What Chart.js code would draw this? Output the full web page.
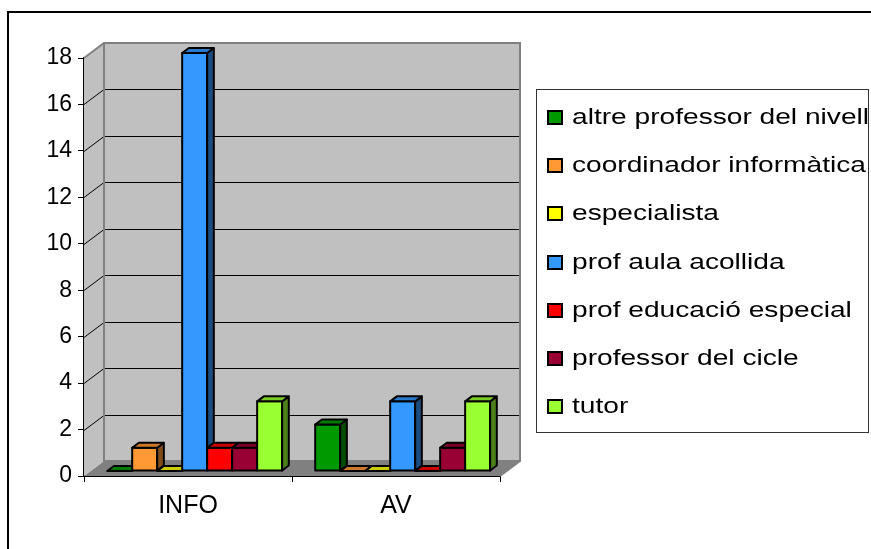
<!DOCTYPE html>
<html><head><meta charset="utf-8">
<script src="https://cdn.jsdelivr.net/npm/chart.js@4.4.0/dist/chart.umd.min.js"></script>
<style>
html,body{margin:0;padding:0;background:#fff;overflow:hidden;width:871px;height:549px;}
#frame{position:absolute;left:7px;top:11px;width:1000px;height:1000px;border:2px solid #000;}
#c{position:absolute;left:0;top:0;display:block;}
#legend{position:absolute;left:536px;top:89px;width:331px;height:342px;border:1px solid #333;background:#fff;font-family:'Liberation Sans',Arial,sans-serif;font-size:22.5px;color:#000;}
.row{position:absolute;left:0;width:331px;height:48px;line-height:48px;white-space:nowrap;}
.sw{position:absolute;left:10px;top:17px;width:12px;height:11px;border:2px solid #000;}
.lbl{position:absolute;left:35px;top:0;transform:scaleX(1.25);transform-origin:0 0;}
</style>
</head><body>
<div id="frame"></div>
<canvas id="c" width="871" height="549"></canvas>
<div id="legend"></div>
<script>
// ---- data ----
const categories = ['INFO', 'AV'];
const seriesNames = ['altre professor del nivell', 'coordinador informàtica', 'especialista', 'prof aula acollida', 'prof educació especial', 'professor del cicle', 'tutor'];
const altreProfessor = [0, 2];
const coordinadorInformatica = [1, 0];
const especialista = [0, 0];
const profAulaAcollida = [18, 3];
const profEducacioEspecial = [1, 0];
const professorCicle = [1, 1];
const tutor = [3, 3];
const seriesValues = [altreProfessor, coordinadorInformatica, especialista, profAulaAcollida, profEducacioEspecial, professorCicle, tutor];
const seriesColors = ['#009900', '#FF9933', '#FFFF00', '#3399FF', '#FF0000', '#990033', '#99FF33'];
const yTicks = [0, 2, 4, 6, 8, 10, 12, 14, 16, 18];

// ---- legend ----
const lg = document.getElementById('legend');
seriesNames.forEach((n, i) => {
  const r = document.createElement('div');
  r.className = 'row';
  r.style.top = (3 + i * 48.2) + 'px';
  const s = document.createElement('span'); s.className = 'sw'; s.style.background = seriesColors[i];
  const t = document.createElement('span'); t.className = 'lbl'; t.textContent = n;
  r.appendChild(s); r.appendChild(t); lg.appendChild(r);
});

// ---- 3D drawing ----
const DX = 20, DY = -15, F1 = 1 / 3, F2 = 2 / 3;
function shade(hex, k) {
  const n = parseInt(hex.slice(1), 16);
  const r = Math.round(((n >> 16) & 255) * k), g = Math.round(((n >> 8) & 255) * k), b = Math.round((n & 255) * k);
  return 'rgb(' + r + ',' + g + ',' + b + ')';
}
function poly(ctx, pts, fill, stroke, lw) {
  ctx.beginPath();
  ctx.moveTo(pts[0][0], pts[0][1]);
  for (let i = 1; i < pts.length; i++) ctx.lineTo(pts[i][0], pts[i][1]);
  ctx.closePath();
  if (fill) { ctx.fillStyle = fill; ctx.fill(); }
  if (stroke) { ctx.strokeStyle = stroke; ctx.lineWidth = lw || 1; ctx.stroke(); }
}
const threeD = {
  id: 'threeD',
  beforeDatasetsDraw(chart) {
    const ctx = chart.ctx, a = chart.chartArea, ys = chart.scales.y;
    ctx.save();
    const L = a.left, R = a.right, T = a.top, B = a.bottom;
    // floor
    poly(ctx, [[L, B], [R, B], [R + DX, B + DY], [L + DX, B + DY]], '#808080');
    // back wall
    poly(ctx, [[L + DX, T + DY], [R + DX, T + DY], [R + DX, B + DY], [L + DX, B + DY]], '#C0C0C0');
    // left wall
    poly(ctx, [[L, T], [L + DX, T + DY], [L + DX, B + DY], [L, B]], '#C0C0C0');
    // gridlines
    ctx.strokeStyle = '#000'; ctx.lineWidth = 1;
    ys.ticks.forEach(t => {
      if (t.value <= ys.min || t.value >= ys.max) return;
      const py = Math.round(ys.getPixelForValue(t.value)) + 0.5;
      ctx.beginPath();
      ctx.moveTo(L, py); ctx.lineTo(L + DX, py + DY); ctx.lineTo(R + DX, py + DY);
      ctx.stroke();
    });
    // wall edges
    ctx.strokeStyle = '#808080'; ctx.lineWidth = 2;
    ctx.beginPath();
    ctx.moveTo(L, T); ctx.lineTo(L + DX, T + DY); ctx.lineTo(R + DX, T + DY); ctx.lineTo(R + DX, B + DY); ctx.lineTo(R, B);
    ctx.moveTo(L + DX, T + DY); ctx.lineTo(L + DX, B + DY); ctx.lineTo(R + DX, B + DY);
    ctx.stroke();
    // bars
    const d = (F2 - F1) * DX, e = (F2 - F1) * DY;
    ctx.lineJoin = 'round';
    for (let j = 0; j < categories.length; j++) {
      chart.data.datasets.forEach((ds, i) => {
        const el = chart.getDatasetMeta(i).data[j];
        const p = el.getProps(['x', 'y', 'base', 'width'], true);
        const col = ds.backgroundColor;
        const x0 = p.x - p.width / 2 + F1 * DX, x1 = x0 + p.width;
        const yT = p.y + F1 * DY, yB = p.base + F1 * DY;
        if (yB - yT > 0.5) {
          poly(ctx, [[x0, yT], [x1, yT], [x1, yB], [x0, yB]], col, '#000', 2);
          poly(ctx, [[x1, yT], [x1 + d, yT + e], [x1 + d, yB + e], [x1, yB]], shade(col, 0.5), '#000', 2);
        }
        poly(ctx, [[x0, yT], [x1, yT], [x1 + d, yT + e], [x0 + d, yT + e]], shade(col, 0.8), '#000', 2);
      });
    }
    ctx.restore();
    return false;
  }
};

new Chart(document.getElementById('c'), {
  type: 'bar',
  data: {
    labels: categories,
    datasets: seriesNames.map((n, i) => ({ label: n, data: seriesValues[i], backgroundColor: seriesColors[i], categoryPercentage: 0.841, barPercentage: 1 }))
  },
  options: {
    responsive: false, animation: false, devicePixelRatio: 1,
    layout: { padding: { left: 0, top: 58, right: 371, bottom: 0 } },
    plugins: { legend: { display: false }, tooltip: { enabled: false } },
    scales: {
      x: {
        grid: { display: true, drawOnChartArea: false, drawTicks: true, tickLength: 6, color: '#000', offset: true },
        border: { display: true, color: '#000', width: 2 },
        ticks: { color: '#000', font: { family: 'Liberation Sans', size: 25 }, padding: 9, maxRotation: 0 },
        afterFit(s) { s.height = 73; }
      },
      y: {
        min: 0, max: 18,
        afterBuildTicks(s) { s.ticks = yTicks.map(v => ({ value: v })); },
        ticks: { color: '#000', font: { family: 'Liberation Sans', size: 23 }, padding: 6 },
        grid: { drawOnChartArea: false, tickLength: 6, color: '#000' },
        border: { display: true, color: '#000', width: 2 },
        afterFit(s) { s.width = 84; }
      }
    }
  },
  plugins: [threeD]
});
</script>
</body></html>
